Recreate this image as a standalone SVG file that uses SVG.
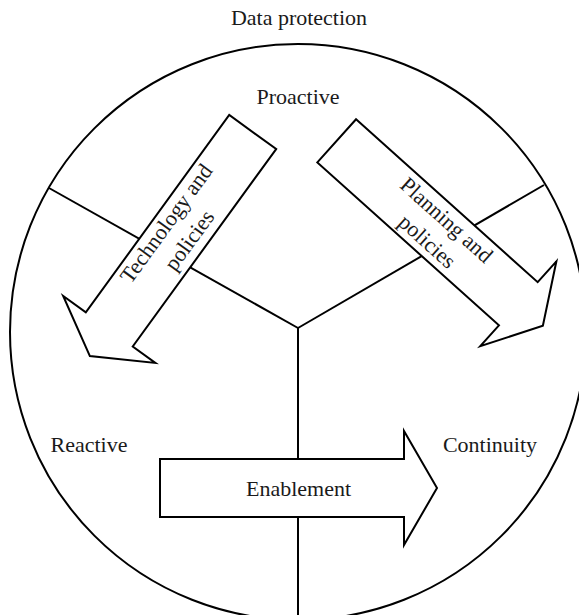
<svg xmlns="http://www.w3.org/2000/svg" width="579" height="615" viewBox="0 0 579 615">
  <style>
    .outline { fill: none; stroke: #000; stroke-width: 2; }
    .arrow { fill: #fff; stroke: #000; stroke-width: 2; stroke-linejoin: miter; }
    .label { font-family: "Liberation Serif", "Times New Roman", serif; font-size: 22px; fill: #1a1a1a; text-anchor: middle; }
  </style>
  <defs>
    <!-- block arrow: tail at origin, pointing along +x -->
    <path id="blockArrow" d="M0,-29 H244 V-57 L277,0 L244,57 V29 H0 Z"/>
  </defs>
  <rect width="579" height="615" fill="#fff"/>

  <g id="data-protection">
    <circle class="outline" cx="298" cy="332" r="288"/>
    <text class="label" x="299" y="25">Data protection</text>
  </g>

  <g id="connectors">
    <line class="outline" x1="49" y1="188" x2="298" y2="328"/>
    <line class="outline" x1="298" y1="328" x2="544" y2="185"/>
    <line class="outline" x1="298" y1="327" x2="298" y2="620"/>
  </g>

  <g id="proactive">
    <text class="label" x="298" y="104">Proactive</text>
  </g>
  <g id="reactive">
    <text class="label" x="89" y="452">Reactive</text>
  </g>
  <g id="continuity">
    <text class="label" x="490" y="452">Continuity</text>
  </g>

  <g id="technology-and-policies">
    <use href="#blockArrow" class="arrow" transform="translate(252.7,132) rotate(126)"/>
    <g transform="translate(179,232.8) rotate(-54)">
      <text class="label" x="0" y="-8.5">Technology and</text>
      <text class="label" x="0" y="20">policies</text>
    </g>
  </g>

  <g id="planning-and-policies">
    <use href="#blockArrow" class="arrow" transform="translate(336.7,140.8) rotate(41.9)"/>
    <g transform="translate(437.1,230.5) rotate(41.9)">
      <text class="label" x="0" y="-6.8">Planning and</text>
      <text class="label" x="0" y="22">policies</text>
    </g>
  </g>

  <g id="enablement">
    <use href="#blockArrow" class="arrow" transform="translate(160,488)"/>
    <text class="label" x="298.5" y="496">Enablement</text>
  </g>
</svg>
